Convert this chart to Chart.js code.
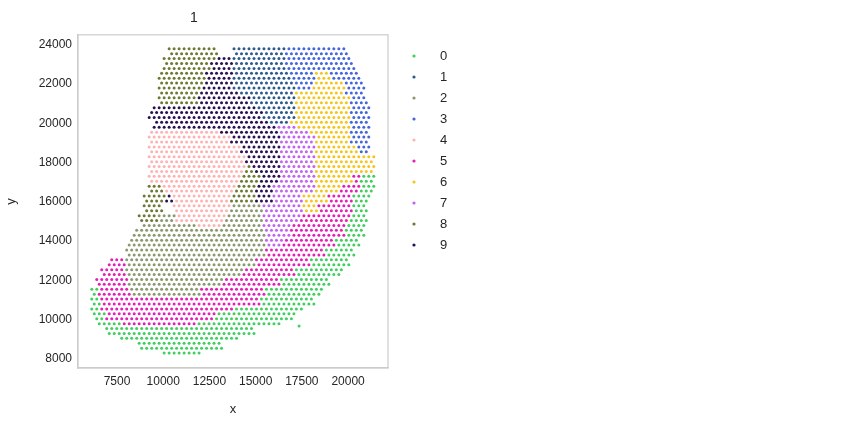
<!DOCTYPE html>
<html><head><meta charset="utf-8">
<script src="https://cdn.jsdelivr.net/npm/chart.js@4"></script>
<style>body{margin:0;background:#fff}#w{width:863px;height:421px}</style>
</head><body><div id="w"><canvas id="c" width="863" height="421"></canvas></div>
<script>
const clusters = ['0','1','2','3','4','5','6','7','8','9'];
const colors = ['#3fcf5f','#2c5a8c','#8a9a6e','#4466dd','#ffb2b2','#e71db6','#f6c51a','#c263f2','#6b7a32','#2a1052'];
const xTicks = [7500,10000,12500,15000,17500,20000];
const yTicks = [8000,10000,12000,14000,16000,18000,20000,22000,24000];
// bands: [yMin, yMax, [cluster, xStart, xEnd], ...]
const bands = [
 [23450,23900,[8,10370,12800],[1,13880,16480],[3,16750,19830]],
 [23150,23450,[8,10100,12690],[9,13070,13610],[1,13880,16480],[3,16750,20000]],
 [22800,23150,[8,10100,12420],[9,12690,13610],[1,13880,16480],[3,16750,20270]],
 [22300,22800,[8,9830,12150],[9,12420,13610],[1,13880,16750],[3,16970,18100],[6,18370,18860],[3,19020,20540]],
 [21800,22300,[8,9830,12040],[9,12310,13610],[1,13880,17020],[3,17290,17940],[6,18210,19730],[3,20000,20760]],
 [21350,21800,[8,9830,11830],[9,12100,13990],[1,14260,17020],[6,17180,19730],[3,20000,20810]],
 [21000,21350,[8,9830,11720],[9,11990,14530],[1,14700,17020],[6,17290,19950],[3,20100,20920]],
 [20600,21000,[9,9450,14860],[1,15130,17020],[6,17290,19950],[3,20210,21030]],
 [20250,20600,[9,9290,15240],[1,15500,17020],[6,17290,20000],[3,20270,21080]],
 [19950,20250,[9,9560,15500],[1,15780,16750],[6,17020,20000],[3,20270,21080]],
 [19650,19950,[9,9400,15940],[7,16210,17020],[6,17290,20000],[3,20270,21080]],
 [19350,19650,[4,9290,12960],[9,13230,16160],[7,16320,17780],[6,18050,20000],[3,20270,21080]],
 [18900,19350,[4,9290,13450],[9,13720,16160],[7,16320,18100],[6,18370,20000],[3,20270,21080]],
 [18400,18900,[4,9290,13990],[9,14260,16160],[7,16320,18100],[6,18370,20380],[3,20540,21080]],
 [17900,18400,[4,9290,14260],[9,14530,16160],[7,16320,18100],[6,18370,21350]],
 [17400,17900,[4,9290,14260],[8,14420,14700],[9,14860,16160],[7,16320,18100],[6,18370,21350]],
 [16900,17400,[4,9290,13990],[8,14260,15070],[9,15240,16160],[7,16320,18100],[6,18370,20100],[5,20270,20540],[0,20810,21350]],
 [16400,16900,[8,9290,9830],[4,10100,13720],[8,13990,14800],[9,15130,15780],[7,15940,18100],[6,18370,19450],[5,19730,20540],[0,20810,21350]],
 [15900,16400,[8,9010,9940],[9,10100,10370],[4,10640,13450],[8,13720,14800],[9,15130,15780],[7,15940,17400],[6,17670,18750],[5,19020,20100],[0,20270,21080]],
 [15450,15900,[8,9010,9830],[4,10640,13450],[2,13610,15240],[7,15350,17400],[6,17670,18210],[5,18370,20100],[0,20270,20920]],
 [15000,15450,[8,8740,9560],[2,9830,10480],[4,10640,13230],[2,13500,15240],[7,15350,17240],[5,17510,20000],[0,20270,20920]],
 [14600,15000,[2,9010,11720],[4,11850,13070],[2,13230,15240],[7,15350,16860],[5,17130,19840],[0,20000,20810]],
 [14150,14600,[2,8470,15350],[7,15500,16750],[5,17020,19730],[0,20000,20810]],
 [13650,14150,[2,8200,15350],[7,15500,16320],[5,16480,19190],[0,19460,20540]],
 [13150,13650,[2,8040,15350],[5,15500,18650],[0,18910,20270]],
 [12650,13150,[5,7120,7820],[2,8040,14860],[5,15070,17830],[0,18100,20000]],
 [12150,12650,[5,6690,7820],[2,8040,14150],[5,14420,17020],[0,17290,19560]],
 [11620,12150,[5,6420,7930],[2,8040,13070],[5,13230,16210],[0,16480,18910]],
 [11200,11620,[0,6150,6310],[5,6420,8090],[2,8200,11830],[5,11990,15400],[0,15670,18480]],
 [10800,11200,[0,6150,6420],[5,6580,15070],[0,15350,18100]],
 [10400,10800,[0,6150,6470],[5,6690,13770],[0,14050,17560]],
 [10000,10400,[0,6310,6690],[5,6960,12690],[0,12960,17020]],
 [9650,10000,[0,6420,7660],[5,7930,11610],[0,11880,16210]],
 [9250,9650,[0,6960,14860]],
 [8900,9250,[0,7770,13990]],
 [8500,8900,[0,8740,13070]],
 [8200,8500,[0,10100,11830]]
];
const extraX = [17350];
const extraY = [9680];
const extraC = [0];

const pts = clusters.map(()=>[]);
const rowStep = 250, colStep = 270;
for (let r = 0; r < 63; r++) {
  const y = 8300 + r*rowStep;
  const band = bands.find(b => y >= b[0] && y < b[1]);
  if (!band) continue;
  const off = (r % 2) ? colStep/2 : 0;
  for (let i = 0; i < 60; i++) {
    const x = 6000 + off + i*colStep;
    for (let s = 2; s < band.length; s++) {
      const seg = band[s];
      if (x >= seg[1]-colStep/2 && x < seg[2]+colStep/2) { pts[seg[0]].push({x, y}); break; }
    }
  }
}
extraX.forEach((x,i)=>pts[extraC[i]].push({x, y: extraY[i]}));

const font = "'Liberation Sans', Arial, sans-serif";
const legendPlugin = {
  id:'lg',
  afterDraw(ch){
    const g = ch.ctx; g.save();
    clusters.forEach((c,i)=>{
      const y = 56 + i*21;
      g.fillStyle = colors[i]; g.beginPath(); g.arc(414,y,1.6,0,Math.PI*2); g.fill();
      g.fillStyle = '#262626'; g.font = '13px '+font; g.textBaseline='middle';
      g.fillText(c, 440, y);
    });
    g.restore();
  }
};
new Chart(document.getElementById('c'), {
  type:'scatter',
  data:{datasets: clusters.map((c,i)=>({label:c, data:pts[i], backgroundColor:colors[i], borderWidth:0, pointRadius:1.5}))},
  options:{
    responsive:false, animation:false,
    layout:{padding:{left:0,right:475,top:0,bottom:0}},
    plugins:{legend:{display:false}, tooltip:{enabled:false},
      title:{display:true,text:'1',color:'#262626',font:{family:font,size:14,weight:'normal'},padding:{top:10,bottom:8}}},
    scales:{
      x:{type:'linear',min:5390,max:22160,
        afterBuildTicks(s){s.ticks=xTicks.map(v=>({value:v}));},
        afterFit(s){s.height=53;},
        grid:{display:false,drawTicks:false}, border:{color:'#cccccc',width:1.2},
        ticks:{color:'#262626',font:{family:font,size:12},padding:6,callback:v=>String(v)},
        title:{display:true,text:'x',color:'#262626',font:{family:font,size:13},padding:{top:6}}},
      y:{type:'linear',min:7540,max:24510,
        afterBuildTicks(s){s.ticks=yTicks.map(v=>({value:v}));},
        afterFit(s){s.width=78;},
        grid:{display:false,drawTicks:false}, border:{color:'#cccccc',width:1.2},
        ticks:{color:'#262626',font:{family:font,size:12},padding:6,callback:v=>String(v)},
        title:{display:true,text:'y',color:'#262626',font:{family:font,size:13},padding:{bottom:4}}}
    }
  },
  plugins:[legendPlugin, {id:'box',afterDraw(ch){const a=ch.chartArea,g=ch.ctx;g.save();g.strokeStyle='#cccccc';g.lineWidth=1.2;g.strokeRect(a.left,a.top,a.right-a.left,a.bottom-a.top);g.restore();}}]
});
</script></body></html>
